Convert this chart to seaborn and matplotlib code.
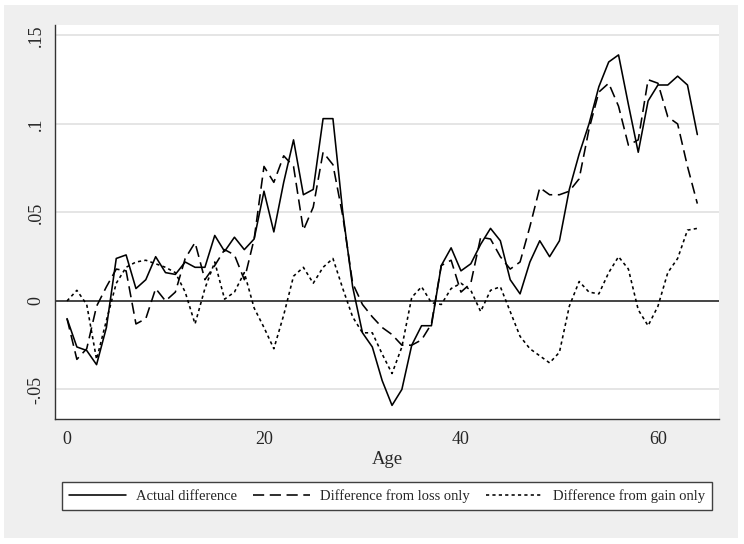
import numpy as np
import pandas as pd
import matplotlib
matplotlib.use('Agg')
import matplotlib.pyplot as plt
from matplotlib.patches import Rectangle
from matplotlib.lines import Line2D
import seaborn as sns

# ages 0..64
age = list(range(65))

actual = [-0.010, -0.026, -0.028, -0.036, -0.015, 0.024, 0.026, 0.007, 0.012, 0.025,
          0.016, 0.015, 0.022, 0.019, 0.019, 0.037, 0.028, 0.036, 0.029, 0.035,
          0.062, 0.039, 0.067, 0.091, 0.060, 0.063, 0.103, 0.103, 0.050, 0.008,
          -0.018, -0.026, -0.045, -0.059, -0.050, -0.025, -0.014, -0.014, 0.020, 0.030,
          0.017, 0.021, 0.032, 0.041, 0.034, 0.012, 0.004, 0.022, 0.034, 0.025,
          0.034, 0.063, 0.083, 0.100, 0.121, 0.135, 0.139, 0.111, 0.084, 0.113,
          0.122, 0.122, 0.127, 0.122, 0.094]

loss_only = [-0.010, -0.033, -0.027, -0.003, 0.008, 0.018, 0.017, -0.013, -0.010, 0.007,
             0.000, 0.005, 0.024, 0.033, 0.012, 0.020, 0.029, 0.026, 0.012, 0.035,
             0.076, 0.067, 0.082, 0.076, 0.040, 0.053, 0.084, 0.077, 0.048, 0.010,
             -0.002, -0.009, -0.015, -0.019, -0.025, -0.025, -0.022, -0.013, 0.020, 0.023,
             0.005, 0.010, 0.036, 0.035, 0.025, 0.018, 0.022, 0.042, 0.064, 0.060,
             0.060, 0.062, 0.069, 0.097, 0.118, 0.123, 0.110, 0.088, 0.091, 0.125,
             0.123, 0.104, 0.100, 0.076, 0.055]

gain_only = [0.000, 0.006, -0.002, -0.033, -0.011, 0.010, 0.019, 0.022, 0.023, 0.021,
             0.019, 0.016, 0.005, -0.013, 0.007, 0.022, 0.001, 0.005, 0.016, -0.004,
             -0.015, -0.027, -0.008, 0.014, 0.019, 0.010, 0.019, 0.024, 0.007, -0.009,
             -0.018, -0.018, -0.030, -0.041, -0.026, 0.002, 0.008, -0.001, -0.002, 0.007,
             0.010, 0.006, -0.006, 0.006, 0.008, -0.006, -0.020, -0.027, -0.031, -0.035,
             -0.029, -0.003, 0.011, 0.005, 0.004, 0.016, 0.025, 0.018, -0.005, -0.014,
             -0.003, 0.016, 0.024, 0.040, 0.041]

series_names = ['Actual difference', 'Difference from loss only', 'Difference from gain only']
ytick_vals = [-0.05, 0, 0.05, 0.1, 0.15]
ytick_labels = ['-.05', '0', '.05', '.1', '.15']
xtick_vals = [0, 20, 40, 60]

df = pd.DataFrame({'Age': age, 'actual': actual, 'loss': loss_only, 'gain': gain_only})

sns.set_style('white')
plt.rcParams['font.family'] = ['Liberation Serif', 'DejaVu Serif']

fig = plt.figure(figsize=(7.44, 5.44), dpi=100)
fig.patch.set_facecolor('white')
# stata-like gray graph region
fig.patches.append(Rectangle((4 / 744, 6 / 544), 734 / 744, 533 / 544,
                             transform=fig.transFigure, facecolor='#efefef',
                             edgecolor='none', zorder=-10))

ax = fig.add_axes([55 / 744, (544 - 419) / 544, (719 - 55) / 744, (419 - 25) / 544])
ax.set_facecolor('white')

lw = 1.15
dash_loss = (0, (7, 3.5))
dash_gain = (0, (2, 2))
sns.lineplot(data=df, x='Age', y='actual', ax=ax, color='black', lw=lw,
             linestyle='-', zorder=3)
sns.lineplot(data=df, x='Age', y='loss', ax=ax, color='black', lw=lw,
             linestyle=dash_loss, zorder=3)
sns.lineplot(data=df, x='Age', y='gain', ax=ax, color='black', lw=lw,
             linestyle=dash_gain, zorder=3)

ax.axhline(0, color='#2a2a2a', lw=1.2, zorder=2)

ax.set_xlim(-1.22, 66.2)
ax.set_ylim(-0.0667, 0.1559)
ax.set_yticks(ytick_vals)
ax.set_yticklabels(ytick_labels, rotation=90, va='center', fontsize=13)
ax.set_xticks(xtick_vals)
ax.set_xticklabels([str(v) for v in xtick_vals], fontsize=13)
ax.set_xlabel('Age', fontsize=13.5, labelpad=2)
ax.set_ylabel('')

ax.grid(axis='y', color='#e3e3e3', lw=1.3, zorder=0)
ax.grid(axis='x', visible=False)
for s in ['top', 'right']:
    ax.spines[s].set_visible(False)
for s in ['left', 'bottom']:
    ax.spines[s].set_color('#333333')
    ax.spines[s].set_linewidth(1.0)
ax.tick_params(axis='both', direction='out', length=4.5, width=0.9,
               color='#333333', pad=3)
ax.tick_params(axis='x', pad=4)

handles = [Line2D([], [], color='black', lw=lw, linestyle='-'),
           Line2D([], [], color='black', lw=lw, linestyle=dash_loss),
           Line2D([], [], color='black', lw=lw, linestyle=dash_gain)]
leg = ax.legend(handles, series_names, loc='center',
                bbox_to_anchor=(62 / 744, 32 / 544, 650 / 744, 32 / 544),
                bbox_transform=fig.transFigure, mode='expand', ncol=3,
                frameon=True, fancybox=False, framealpha=1, facecolor='white',
                edgecolor='#404040', borderaxespad=0, handlelength=3.9,
                handletextpad=0.65, fontsize=10.5, borderpad=0.5)
leg.get_frame().set_linewidth(1.0)

fig.savefig('out.png', dpi=100, facecolor=fig.get_facecolor())
